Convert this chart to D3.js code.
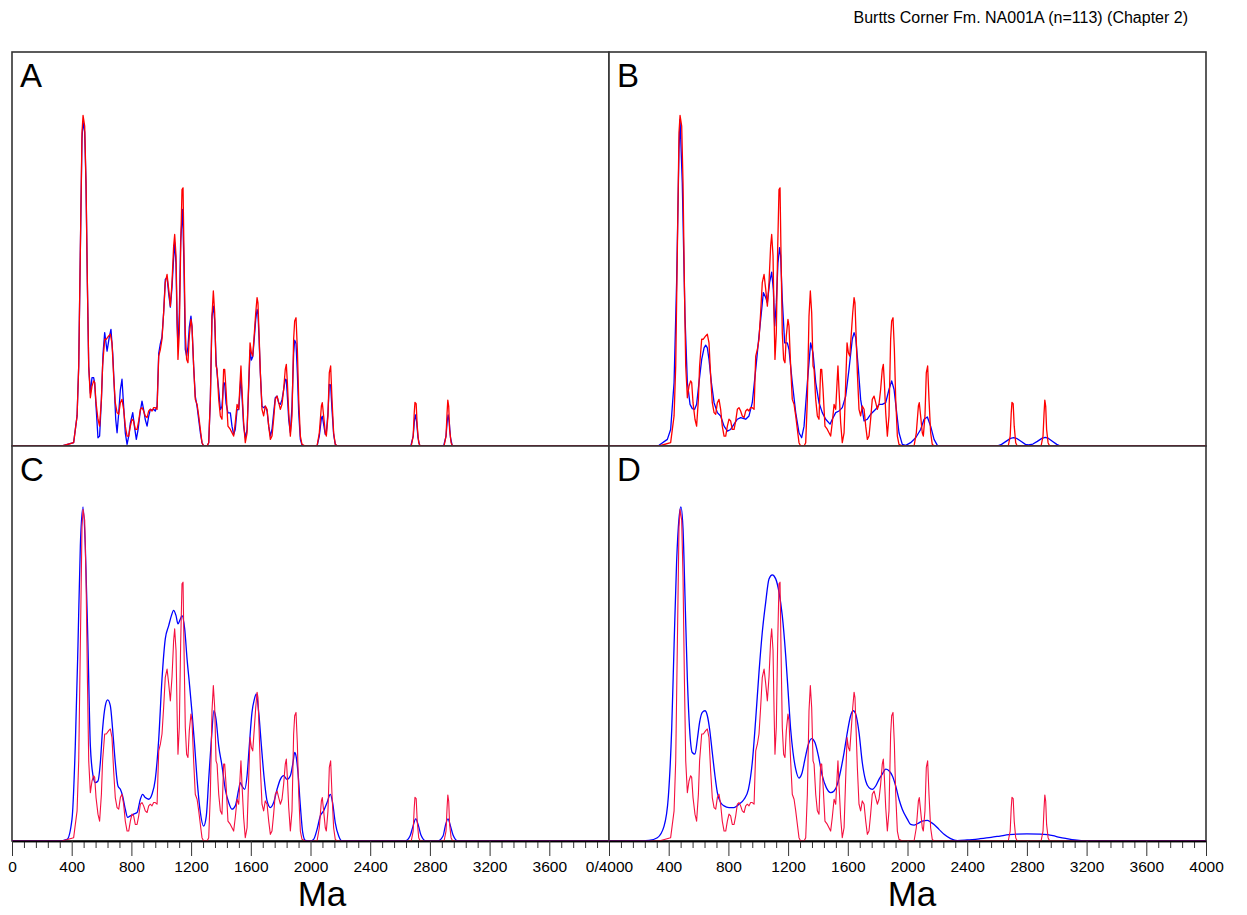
<!DOCTYPE html>
<html>
<head>
<meta charset="utf-8">
<script src="https://cdn.jsdelivr.net/npm/d3@7/dist/d3.min.js"></script>
<style>
body { margin: 0; background: #fff; }
svg { display: block; font-family: Arial, "Liberation Sans", sans-serif; }
</style>
</head>
<body>
<div id="chart"></div>
<script>
// values: [age (Ma), relative density, tallest peak = 100]
var pdpRed = [[0,0],[335,0],[413,1.0],[436,9.1],[447,24.2],[458,59.5],[469,94.8],[476,100],[487,96.8],[496,79.6],[505,49.4],[514,24.2],[525,14.6],[536,18.1],[547,19.7],[554,19.2],[563,13.1],[576,8.1],[587,6.0],[599,14.1],[607,24.2],[621,32.3],[632,32.3],[648,33.3],[659,33.8],[670,31.2],[681,21.2],[692,13.1],[704,10.1],[715,9.6],[726,13.1],[737,14.1],[748,11.1],[759,6.0],[771,3.0],[782,3.0],[793,6.0],[804,8.1],[815,7.6],[826,5.0],[838,5.0],[849,7.6],[860,11.1],[871,11.6],[882,10.6],[893,9.1],[905,8.6],[916,10.6],[927,11.1],[938,10.6],[949,11.6],[960,11.6],[972,11.1],[983,27.2],[994,29.2],[1005,32.3],[1016,40.3],[1027,49.4],[1039,51.9],[1050,47.4],[1061,42.3],[1072,49.4],[1083,60.5],[1090,64.0],[1099,57.5],[1106,39.3],[1112,26.2],[1121,34.3],[1130,59.5],[1139,77.6],[1146,78.1],[1152,59.5],[1161,34.3],[1170,26.2],[1179,25.2],[1188,33.3],[1199,38.3],[1206,36.3],[1217,24.2],[1228,14.1],[1240,12.6],[1251,9.1],[1262,5.0],[1273,1.0],[1284,0],[1307,0],[1318,1.0],[1329,14.1],[1340,39.3],[1349,46.9],[1358,40.3],[1367,24.2],[1374,23.2],[1385,14.1],[1396,9.1],[1407,8.1],[1418,23.2],[1425,23.2],[1434,17.1],[1447,6.0],[1463,5.0],[1474,4.0],[1485,3.0],[1496,7.1],[1508,12.6],[1519,11.1],[1528,19.2],[1534,24.2],[1541,17.1],[1552,7.1],[1563,1.0],[1575,4.0],[1586,19.2],[1595,31.2],[1604,28.2],[1613,27.2],[1624,34.3],[1633,40.3],[1642,44.9],[1648,43.3],[1655,34.3],[1664,22.2],[1675,11.1],[1686,9.1],[1697,12.1],[1709,11.1],[1720,6.0],[1731,2.0],[1742,3.0],[1753,8.1],[1764,14.1],[1776,15.1],[1787,13.1],[1798,11.1],[1809,12.6],[1820,17.1],[1831,23.2],[1838,24.7],[1845,19.2],[1854,10.1],[1865,3.0],[1876,9.1],[1887,32.3],[1894,37.8],[1903,38.8],[1912,29.2],[1921,14.1],[1932,3.0],[1943,0.5],[1965,0],[2044,0],[2059,4.0],[2073,12.1],[2079,13.1],[2088,9.1],[2099,4.0],[2106,3.0],[2117,9.1],[2126,22.2],[2135,24.2],[2144,14.1],[2155,4.0],[2166,0.5],[2178,0],[2675,0],[2688,3],[2695,10],[2700,13.2],[2708,12.8],[2715,6],[2725,1],[2735,0],[2895,0],[2908,3],[2915,10],[2920,13.9],[2926,12],[2932,5],[2942,1],[2952,0],[4000,0]];

var kdeA = [[0,0],[335,0],[413,1.0],[436,9.1],[447,24.2],[458,59.5],[469,93],[476,98],[487,95],[496,79],[505,49],[514,24],[525,16],[536,20.7],[547,20.7],[554,19],[563,12],[576,2.5],[587,3],[599,14],[610,28],[621,34.3],[637,28.7],[652,33],[663,35.3],[675,28],[686,17],[695,8],[704,4],[715,10],[726,17],[737,20.2],[748,12],[759,4],[771,0.5],[782,3],[793,7],[809,10.1],[820,6],[833,2],[845,5],[858,10],[871,13.6],[882,11],[893,8],[905,6],[916,9],[927,11.1],[938,10.8],[949,11.1],[960,10.6],[972,12],[983,28],[994,31],[1005,33],[1016,40.3],[1027,50.4],[1039,51],[1050,46],[1061,42],[1072,48],[1083,57],[1090,61.5],[1099,55],[1106,37],[1112,30.2],[1121,40],[1130,62],[1143,71.6],[1152,55],[1161,29.2],[1170,27.2],[1179,30],[1188,36],[1199,39.3],[1206,36],[1217,24.2],[1228,15],[1240,12],[1251,8],[1262,4],[1273,1],[1284,0],[1307,0],[1318,1.0],[1329,14.1],[1340,39.3],[1349,42.3],[1358,38],[1367,26],[1374,22],[1385,17],[1396,11],[1407,12],[1418,19.2],[1425,19],[1434,13],[1447,10],[1463,10],[1474,6],[1485,3.5],[1496,5],[1508,11],[1519,11],[1528,17],[1534,21.2],[1541,15],[1552,6],[1563,2.5],[1575,5],[1586,18],[1595,29],[1604,26],[1613,27],[1624,33],[1633,38.3],[1642,41.3],[1648,40],[1655,33],[1664,22],[1675,12],[1686,11.6],[1697,12],[1709,10.6],[1720,6],[1731,3],[1742,5],[1753,10],[1764,14.6],[1776,15.1],[1787,13],[1798,12.6],[1809,14],[1820,17],[1831,20.2],[1838,20],[1845,15],[1854,8],[1865,4],[1876,12],[1887,28],[1894,32],[1903,31],[1912,22],[1921,10],[1932,2],[1943,0.3],[1965,0],[2044,0],[2059,3],[2073,8.5],[2079,9],[2088,6.5],[2099,3.5],[2106,4],[2117,10],[2126,18.6],[2135,18.5],[2144,11],[2155,3.5],[2166,0.5],[2178,0],[2672,0],[2688,3],[2697,8],[2703,9.4],[2712,7],[2720,2.5],[2732,0],[2892,0],[2908,3],[2917,8],[2922,9.4],[2930,7],[2938,2.5],[2950,0],[4000,0]];

var kdeB = [[0,0],[300,0],[335,0.2],[391,2.0],[413,5.0],[436,19.2],[453,49.4],[469,89.7],[476,98.8],[491,79.6],[509,39.3],[525,19.2],[543,12.6],[558,11.3],[574,11.1],[587,12.6],[603,19.2],[621,26.2],[637,29.7],[648,30.5],[659,29.7],[670,26.2],[686,19.2],[704,13.1],[726,10.1],[748,9.1],[771,6.0],[793,4.5],[815,5.0],[838,6.6],[860,8.1],[882,8.6],[916,8.1],[938,9.1],[960,13.1],[983,23.2],[1005,33.3],[1023,41.3],[1034,46.4],[1050,44.9],[1061,43.3],[1076,49.4],[1090,52.6],[1101,47.4],[1110,36.3],[1121,43.3],[1132,55.4],[1143,60.0],[1150,57.5],[1161,44.4],[1177,31.2],[1195,31.2],[1206,29.2],[1228,19.2],[1251,10.1],[1273,4.0],[1291,2.5],[1307,6.0],[1329,19.2],[1351,31.2],[1367,28.2],[1385,19.2],[1407,13.1],[1429,10.1],[1452,8.1],[1481,6.6],[1496,8.1],[1519,10.1],[1541,10.6],[1563,11.6],[1586,15.1],[1608,23.2],[1630,32.3],[1642,34.3],[1653,32.8],[1671,23.2],[1686,14.1],[1709,7.6],[1731,8.1],[1753,9.6],[1787,11.1],[1809,12.6],[1831,12.6],[1854,13.1],[1876,17.1],[1894,19.7],[1910,17.1],[1925,11.1],[1943,4.0],[1965,0.5],[1988,0.2],[2021,1.0],[2055,2.5],[2088,5.0],[2111,8.1],[2133,8.8],[2155,6.0],[2178,2.0],[2200,0.2],[2300,0],[2600,0],[2630,0.5],[2660,1.4],[2690,2.3],[2712,2.5],[2735,2.2],[2765,1.3],[2790,0.5],[2810,0.3],[2840,0.6],[2870,1.4],[2900,2.3],[2923,2.6],[2945,2.3],[2975,1.3],[3000,0.5],[3025,0],[4000,0]];

var kdeC = [[0,0],[313,0],[369,0.5],[402,6.6],[424,28.7],[442,59.0],[458,89.2],[476,100.8],[491,89.2],[509,59.0],[525,28.7],[543,19.7],[558,17.6],[576,18.1],[592,23.7],[607,33.8],[625,40.8],[641,42.6],[659,40.8],[674,33.8],[692,23.7],[710,16.6],[726,15.6],[741,13.6],[759,9.6],[775,7.1],[793,7.6],[815,8.1],[838,8.6],[860,12.6],[875,14.1],[893,13.1],[916,12.6],[938,14.1],[960,18.6],[983,30.7],[1005,48.9],[1027,61.0],[1050,65.0],[1068,68.0],[1083,69.6],[1099,68.0],[1112,65.5],[1128,67.0],[1139,68.0],[1157,64.0],[1173,54.9],[1190,46.9],[1206,38.8],[1224,28.7],[1240,18.6],[1262,8.6],[1284,4.5],[1302,7.6],[1318,18.6],[1336,30.7],[1353,39.3],[1367,36.8],[1385,28.7],[1407,22.7],[1429,15.6],[1452,11.6],[1474,9.6],[1496,10.6],[1519,15.6],[1530,17.6],[1541,16.6],[1559,15.6],[1575,19.7],[1590,28.7],[1608,38.8],[1624,42.8],[1637,44.4],[1653,38.8],[1671,28.7],[1688,19.7],[1709,12.1],[1731,10.1],[1753,11.6],[1776,15.6],[1798,18.6],[1820,19.7],[1843,18.6],[1865,19.7],[1883,23.7],[1894,26.7],[1903,25.7],[1916,20.7],[1932,10.6],[1948,2.5],[1965,0.2],[1999,0],[2021,0.5],[2044,3.5],[2066,7.6],[2088,9.1],[2111,11.6],[2133,14.1],[2148,11.6],[2166,5.5],[2189,1.5],[2211,0],[2633,0],[2667,1.5],[2687,4.5],[2705,6.7],[2724,4.5],[2740,1.8],[2774,0],[2852,0],[2888,1.5],[2903,4.5],[2921,6.7],[2938,4.5],[2955,1.8],[2988,0],[4000,0]];

var kdeD = [[0,0],[179,0],[268,0.2],[324,1.0],[369,4.5],[398,13.6],[420,33.8],[436,59.0],[453,84.2],[469,97.3],[482,100.8],[496,94.2],[509,74.1],[525,48.9],[540,33.8],[558,26.7],[576,26.2],[592,30.7],[607,35.8],[625,38.8],[643,39.3],[659,37.8],[674,33.8],[692,26.7],[710,19.7],[726,14.6],[748,11.6],[771,10.6],[804,10.1],[838,10.1],[871,11.1],[905,12.6],[934,15.6],[960,23.7],[983,36.8],[1005,50.9],[1027,63.0],[1050,72.1],[1072,79.1],[1094,80.3],[1117,79.1],[1139,75.1],[1161,68.0],[1184,55.9],[1202,43.8],[1217,33.8],[1233,26.7],[1251,21.7],[1273,19.0],[1291,20.2],[1313,24.7],[1336,29.2],[1358,30.9],[1380,29.7],[1403,25.7],[1429,19.7],[1456,16.1],[1485,14.6],[1508,15.1],[1530,17.1],[1552,21.2],[1575,26.7],[1597,32.8],[1619,37.8],[1637,39.3],[1653,38.3],[1675,32.8],[1697,23.7],[1720,18.1],[1742,16.1],[1764,15.6],[1787,16.6],[1809,18.6],[1831,20.2],[1854,21.7],[1876,21.2],[1898,19.7],[1921,16.6],[1943,12.6],[1965,9.6],[1999,6.6],[2021,5.0],[2044,4.8],[2066,5.2],[2099,6.0],[2133,6.2],[2155,5.7],[2178,5.0],[2211,3.5],[2245,2.0],[2289,0.7],[2334,0.1],[2400,0.3],[2486,0.7],[2560,1.1],[2620,1.5],[2680,1.9],[2732,2.1],[2800,2.15],[2888,2.1],[2940,1.9],[2975,1.6],[3020,1.1],[3067,0.7],[3120,0.3],[3178,0.05],[3220,0],[4000,0]];

var panelNames = ['A', 'B', 'C', 'D'];
var majorTicks = d3.range(0, 4001, 400);
var minorTicks = d3.range(0, 4001, 80);
var titleText = 'Burtts Corner Fm. NA001A (n=113) (Chapter 2)';
var axisTitle = 'Ma';

var width = 1247;
var height = 915;
var left = 12;
var panelW = 597;
var rowTops = [52, 446];
var rowBottoms = [446, 841];
var yMax = 119.2;

var svg = d3.select('#chart')
	.append('svg')
	.attr('width', width)
	.attr('height', height);

var panels = [
	{ name: panelNames[0], col: 0, row: 0, kde: kdeA, red: '#ff0000' },
	{ name: panelNames[1], col: 1, row: 0, kde: kdeB, red: '#ff0000' },
	{ name: panelNames[2], col: 0, row: 1, kde: kdeC, red: '#f5103f' },
	{ name: panelNames[3], col: 1, row: 1, kde: kdeD, red: '#f5103f' }
];

panels.forEach(function(p) {
	var x0 = left + p.col * panelW;
	var xScale = d3.scaleLinear().domain([0, 4000]).range([x0, x0 + panelW]);
	var yScale = d3.scaleLinear().domain([0, yMax]).range([rowBottoms[p.row], rowTops[p.row]]);

	var g = svg.append('g').classed('panel', true);

	g.append('rect')
		.attr('x', x0)
		.attr('y', rowTops[p.row])
		.attr('width', panelW)
		.attr('height', rowBottoms[p.row] - rowTops[p.row])
		.attr('fill', '#fff')
		.attr('stroke', '#333')
		.attr('stroke-width', 1.6);

	var blueLine = d3.line()
		.x(function(d) { return xScale(d[0]); })
		.y(function(d) { return yScale(d[1]); })
		.curve(p.row === 1 ? d3.curveMonotoneX : d3.curveLinear);

	var redLine = d3.line()
		.x(function(d) { return xScale(d[0]); })
		.y(function(d) { return yScale(d[1]); });

	g.append('path')
		.datum(p.kde)
		.attr('d', blueLine)
		.attr('fill', 'none')
		.attr('stroke', '#0000ff')
		.attr('stroke-width', 1.3)
		.attr('stroke-linejoin', 'round');

	g.append('path')
		.datum(pdpRed)
		.attr('d', redLine)
		.attr('fill', 'none')
		.attr('stroke', p.red)
		.attr('stroke-width', p.row === 0 ? 1.3 : 1.1)
		.attr('stroke-linejoin', 'round');

	g.append('text')
		.attr('x', x0 + 8)
		.attr('y', rowTops[p.row] + 35)
		.attr('font-size', '33px')
		.attr('fill', '#000')
		.text(p.name);

	// x axis only under the bottom row
	if (p.row === 1) {
		var axisG = svg.append('g')
			.attr('transform', 'translate(0,' + rowBottoms[1] + ')');

		var minorAxis = d3.axisBottom(xScale)
			.tickValues(minorTicks.filter(function(d) { return d % 400 !== 0; }))
			.tickSize(7)
			.tickSizeOuter(0)
			.tickFormat('');

		var majorAxis = d3.axisBottom(xScale)
			.tickValues(p.col === 0 ? majorTicks : majorTicks.slice(1))
			.tickSize(15)
			.tickSizeOuter(0)
			.tickFormat(function(d) {
				if (p.col === 0 && d === 4000) return '0/4000';
				return d;
			});

		axisG.append('g').call(minorAxis);
		axisG.append('g').call(majorAxis);

		axisG.selectAll('.tick line').attr('stroke', '#333');
		axisG.selectAll('.domain').attr('stroke', '#000').attr('stroke-width', 1.6);
		axisG.selectAll('text')
			.attr('y', 20)
			.attr('dy', '0.71em')
			.attr('font-size', '15.5px')
			.attr('font-family', 'Arial, "Liberation Sans", sans-serif')
			.attr('fill', '#000');

		svg.append('text')
			.attr('x', p.col === 0 ? 322 : 912)
			.attr('y', 906)
			.attr('text-anchor', 'middle')
			.attr('font-size', '35px')
			.attr('fill', '#000')
			.text(axisTitle);
	}
});

svg.append('text')
	.attr('x', 1188)
	.attr('y', 23)
	.attr('text-anchor', 'end')
	.attr('font-size', '16px')
	.attr('fill', '#000')
	.text(titleText);
</script>
</body>
</html>
